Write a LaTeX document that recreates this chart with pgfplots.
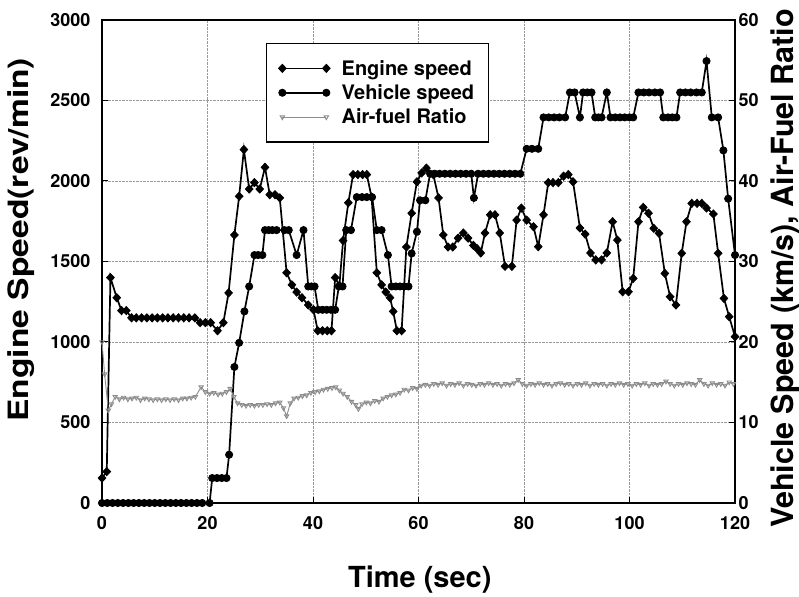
\documentclass[border=0pt]{standalone}
\usepackage{pgfplots}
\pgfplotsset{compat=1.18}
\usepackage{fontspec}
\setmainfont{TeX Gyre Heros}
\usetikzlibrary{plotmarks}
\pgfplotsset{
  engine/.style={black, line width=1.7pt, mark=diamond*, mark size=4.1pt, mark options={solid, fill=black, xscale=1.25, line width=0.8pt}},
  vehicle/.style={black, line width=1.7pt, mark=*, mark size=3.6pt, mark options={solid, fill=black, line width=0.8pt}},
  afr/.style={black!45, line width=0.9pt, mark=triangle, mark size=2.5pt, mark options={solid, rotate=180}},
  common/.style={
    width=633pt, height=483pt, scale only axis,
    at={(0,0)}, anchor=south west,
    xmin=0, xmax=120,
    axis line style={line width=1.6pt},
    tick style={black, line width=1pt},
    major tick length=6pt,
    tick align=inside,
    ticklabel style={font=\fontsize{18}{20}\selectfont\bfseries},
    /pgf/number format/assume math mode=true,
    /pgf/number format/1000 sep={},
  },
}
\begin{document}
\begin{tikzpicture}
\begin{axis}[common,
  ymin=0, ymax=3000,
  ytick={0,500,...,3000},
  xtick={0,20,...,120},
  xtick pos=bottom, ytick pos=left,
  grid=major,
  major grid style={densely dotted, gray!80, line width=0.6pt},
  yticklabel style={xshift=-8pt},
  xticklabel style={yshift=-10pt},
  xlabel={Time (sec)},
  xlabel style={font=\fontsize{29}{32}\selectfont\bfseries, at={(axis description cs:0.502,-0.159)}, anchor=center},
  ylabel={\scalebox{1.2}[1]{Engine Speed(rev/min)}},
  ylabel style={font=\fontsize{28}{32}\selectfont\bfseries, at={(axis description cs:-0.128,0.545)}, anchor=center},
]
\addplot[engine] coordinates {
(0,155)(0.9,195)(1.6,1400)(2.8,1275)(3.7,1195)(4.6,1195)(5.6,1150)(6.5,1150)(7.5,1150)(8.5,1150)(9.5,1150)(10.5,1150)(11.5,1150)(12.5,1150)(13.5,1150)(14.5,1150)(15.5,1150)(16.5,1150)(17.6,1150)(18.6,1120)(19.6,1120)(20.6,1120)(21.9,1070)(23.0,1120)(24.0,1305)(25.1,1665)(26.0,1905)(26.9,2195)(27.9,1950)(28.9,1990)(29.9,1950)(30.9,2085)(31.8,1915)(32.8,1915)(33.7,1895)(35.0,1430)(36.0,1355)(36.9,1310)(37.9,1275)(39.1,1230)(40.1,1200)(40.9,1070)(41.8,1070)(42.7,1070)(43.5,1070)(44.2,1400)(45.0,1350)(45.7,1630)(46.7,1865)(47.6,2040)(48.5,2040)(49.4,2040)(50.2,2040)(51.1,1900)(52.1,1430)(53.0,1355)(53.8,1310)(54.6,1275)(55.2,1190)(55.9,1070)(56.8,1070)(57.7,1590)(58.7,1800)(59.7,1995)(60.6,2050)(61.5,2080)(62.8,2040)(63.8,1895)(64.7,1665)(65.6,1590)(66.5,1590)(67.5,1645)(68.5,1677)(69.4,1645)(70.4,1600)(71.1,1580)(71.8,1553)(72.6,1677)(73.6,1790)(74.5,1790)(75.4,1677)(76.4,1470)(77.7,1470)(78.6,1757)(79.5,1832)(80.5,1757)(81.8,1716)(82.7,1592)(83.7,1790)(84.6,1990)(85.5,1990)(86.5,1990)(87.5,2030)(88.4,2040)(89.3,1995)(90.6,1708)(91.6,1670)(92.6,1553)(93.6,1510)(94.7,1510)(95.7,1553)(96.8,1747)(97.7,1633)(98.7,1312)(99.8,1312)(100.7,1395)(101.7,1747)(102.6,1836)(103.6,1800)(104.6,1706)(105.6,1675)(106.7,1426)(107.7,1281)(108.8,1230)(109.9,1551)(110.8,1747)(111.8,1861)(112.8,1861)(113.7,1861)(114.6,1832)(115.9,1795)(116.8,1551)(117.9,1271)(118.9,1157)(120,1033)
};
\end{axis}
\begin{axis}[common,
  ymin=0, ymax=60,
  ytick={0,10,...,60},
  axis y line*=right, axis x line=none,
  ylabel={Vehicle Speed (km/s), Air-Fuel Ratio},
  ylabel style={font=\fontsize{30.5}{34}\selectfont\bfseries, at={(axis description cs:1.079,0.4855)}, anchor=center, rotate=0},
  legend cell align=left,
  legend style={at={(axis description cs:0.2586,0.9527)}, anchor=north west,
    draw=black, line width=1.6pt, font=\fontsize{20}{22}\selectfont\bfseries,
    inner xsep=12pt, inner ysep=14pt, row sep=3pt,
    nodes={inner sep=2.5pt},
    /tikz/every odd column/.append style={column sep=9pt}},
  legend image code/.code={\draw[#1, mark repeat=2, mark phase=1] plot coordinates {(0pt,0pt) (22pt,0pt) (44pt,0pt)};},
]
\addlegendimage{engine, line width=0.9pt}
\addlegendentry{Engine speed}
\addplot[vehicle] coordinates {
(0,0)(1,0)(2,0)(3,0)(4,0)(5,0)(6,0)(7,0)(8,0)(9,0)(10,0)(11,0)(12,0)(13,0)(14,0)(15,0)(16,0)(17,0)(18,0)(19,0)(20.4,0)(20.9,3.1)(21.8,3.1)(22.7,3.1)(23.6,3.1)(24.1,6.0)(25.1,16.9)(26,19.9)(27,23.8)(27.9,26.9)(28.9,30.8)(29.6,30.8)(30.4,30.8)(30.9,33.9)(31.6,33.9)(32.3,33.9)(33.1,33.9)(34.6,33.9)(35.4,33.9)(36.9,30.8)(38.2,33.9)(39.1,26.9)(39.7,26.9)(40.3,26.9)(41,24)(41.8,24)(42.6,24)(43.4,24)(44.2,24)(44.9,26.9)(45.6,26.9)(46.3,33.9)(47.2,33.9)(48.3,38)(49.3,38)(50.2,38)(51.2,38)(52.1,33.9)(53.0,33.9)(54.2,30.8)(54.9,26.9)(55.7,26.9)(56.5,26.9)(57.3,26.9)(58.1,26.9)(58.7,31)(59.7,33.7)(60.3,37.6)(61.3,37.6)(62.2,40.9)(63.1,40.9)(64,40.9)(65,40.9)(66,40.9)(67,40.9)(68,40.9)(69,40.9)(70,40.9)(70.5,37.9)(71.3,40.9)(72.3,40.9)(73.3,40.9)(74.3,40.9)(75.3,40.9)(76.3,40.9)(77.3,40.9)(78.3,40.9)(79.3,40.9)(80.5,44)(81.5,44)(82.7,44)(83.7,47.9)(84.7,47.9)(85.7,47.9)(86.7,47.9)(87.8,47.9)(88.7,51)(89.6,51)(90.6,47.9)(91.2,51)(92,51)(92.8,51)(93.5,47.9)(94.1,47.9)(94.7,47.9)(95.7,51)(96.4,47.9)(97.3,47.9)(98.2,47.9)(99.1,47.9)(100,47.9)(100.7,47.9)(101.7,51)(102.7,51)(103.7,51)(104.8,51)(105.8,51)(106.4,47.9)(107.3,47.9)(108.1,47.9)(108.9,47.9)(109.6,51)(110.6,51)(111.6,51)(112.7,51)(113.7,51)(114.6,54.9)(115.6,47.9)(116.8,47.9)(117.8,43.8)(118.7,37.8)(120,30.8)
};
\addlegendentry{Vehicle speed}
\addplot[afr] coordinates {
(0,20)(0.5,16)(1.2,11.5)(1.8,12.3)(2.5,13.2)(3.3,12.9)(4.1,13.1)(4.9,12.9)(5.7,13.0)(6.5,13.1)(7.3,12.8)(8.1,13.0)(8.9,12.9)(9.7,12.8)(10.5,12.9)(11.3,12.8)(12.1,12.9)(12.9,12.8)(13.7,12.9)(14.5,12.8)(15.3,13.0)(16.1,13.0)(16.9,13.1)(17.7,13.2)(18.8,14.4)(19.6,13.8)(20.4,13.6)(21.2,13.7)(22,13.5)(22.8,13.6)(23.6,13.8)(24.3,14.2)(25,13.2)(25.7,12.4)(26.5,12.2)(27.3,12.1)(28.1,12.2)(28.9,12.1)(29.7,12.2)(30.5,12.2)(31.3,12.3)(32.1,12.2)(32.9,12.4)(33.7,12.5)(34.4,11.8)(35.0,10.8)(35.7,12.4)(36.4,13.0)(37.2,13.1)(38,13.3)(38.8,13.4)(39.6,13.7)(40.4,13.8)(41.2,13.9)(42,14.1)(42.8,14.2)(43.6,14.3)(44.3,14.4)(45,14.0)(45.7,13.6)(46.5,13.2)(47.3,12.6)(48.1,12.2)(48.6,11.7)(49.3,12.3)(50.1,12.5)(50.9,12.4)(51.7,12.7)(52.5,12.6)(53.3,13.0)(54.1,13.2)(54.9,13.4)(55.7,13.5)(56.5,13.7)(57.3,14.1)(58.1,14.0)(58.9,14.3)(59.7,14.2)(60.5,14.6)(61.3,14.7)(62.1,14.6)(62.9,14.8)(63.7,14.7)(64.5,14.9)(65.3,14.6)(66.1,14.8)(66.9,14.7)(67.7,14.9)(68.5,14.6)(69.3,14.8)(70.1,14.7)(70.9,14.6)(71.7,14.8)(72.5,14.7)(73.3,14.9)(74.1,14.7)(74.9,14.8)(75.7,14.6)(76.5,14.8)(77.3,14.7)(78.1,14.9)(78.9,15.3)(79.7,14.8)(80.5,14.6)(81.3,14.8)(82.1,14.7)(82.9,14.9)(83.7,14.7)(84.5,14.8)(85.3,14.6)(86.1,14.8)(86.9,14.9)(87.7,14.7)(88.5,14.8)(89.3,14.6)(90.1,14.8)(90.9,14.7)(91.7,14.9)(92.5,14.6)(93.3,14.8)(94.1,14.7)(94.9,14.8)(95.7,14.6)(96.5,14.8)(97.3,14.7)(98.1,14.9)(98.9,14.7)(99.7,14.8)(100.5,14.6)(101.3,14.8)(102.1,14.7)(102.9,14.9)(103.7,14.6)(104.5,14.8)(105.3,14.7)(106.1,14.8)(106.9,15.1)(107.7,14.8)(108.5,14.6)(109.3,14.8)(110.1,14.7)(110.9,14.9)(111.7,14.8)(112.5,14.7)(113.3,15.3)(114.1,14.8)(114.9,14.6)(115.7,14.9)(116.5,14.7)(117.3,14.8)(118.1,14.6)(118.9,15.0)(119.7,14.8)
};
\addlegendentry{Air-fuel Ratio}
\end{axis}
\pgfresetboundingbox
\path (-102pt,-93pt) rectangle (697pt,503pt);
\end{tikzpicture}
\end{document}
